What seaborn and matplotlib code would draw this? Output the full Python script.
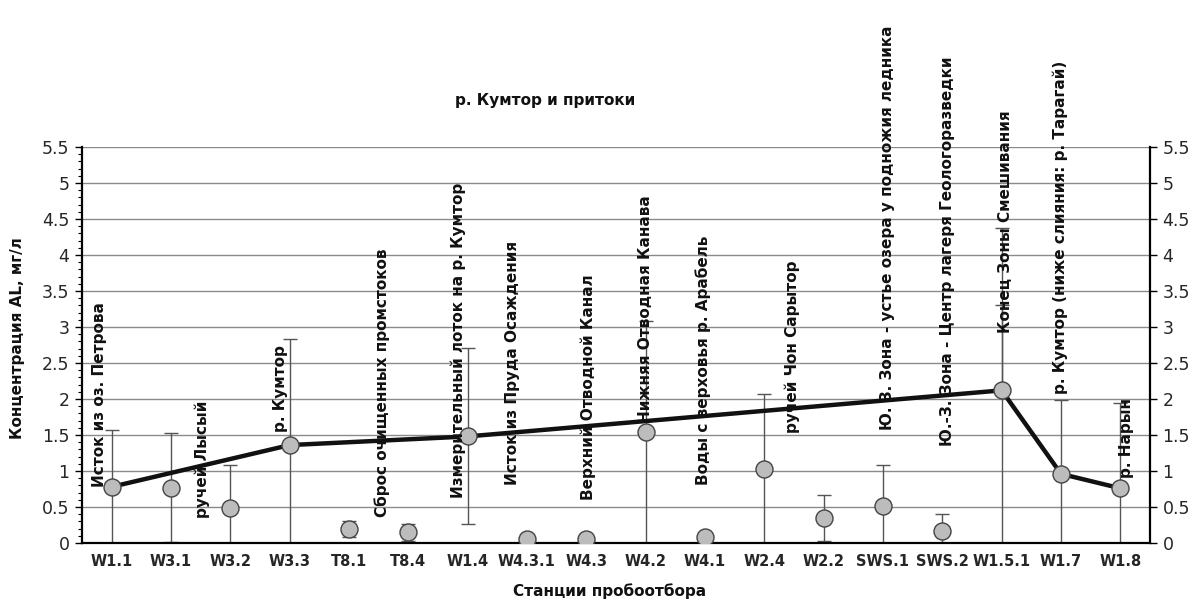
import numpy as np
import pandas as pd
import seaborn as sns
import matplotlib
matplotlib.use("Agg")
import matplotlib.pyplot as plt
from matplotlib.ticker import MultipleLocator

# станции и концентрации
stations = ["W1.1", "W3.1", "W3.2", "W3.3", "T8.1", "T8.4", "W1.4", "W4.3.1", "W4.3",
            "W4.2", "W4.1", "W2.4", "W2.2", "SWS.1", "SWS.2", "W1.5.1", "W1.7", "W1.8"]
al_mean = [0.78, 0.77, 0.49, 1.36, 0.20, 0.15, 1.49, 0.05, 0.05,
           1.54, 0.08, 1.03, 0.35, 0.51, 0.16, 2.12, 0.96, 0.76]
al_err = [0.79, 0.76, 0.60, 1.47, 0.11, 0.12, 1.22, np.nan, np.nan,
          1.54, np.nan, 1.04, 0.32, 0.57, 0.24, 2.26, 1.02, 1.19]

# основное русло р. Кумтор
river_stations = ["W1.1", "W3.3", "W1.4", "W1.5.1", "W1.7", "W1.8"]
river_mean = [0.78, 1.36, 1.48, 2.12, 0.96, 0.76]
river_err_up = [np.nan, np.nan, np.nan, 1.18, np.nan, np.nan]

names = ["Исток из оз. Петрова", "ручей Лысый", "р. Кумтор", "Сброс очищенных промстоков",
         "Измерительный лоток на р. Кумтор", "Исток из Пруда Осаждения", "Верхний Отводной Канал",
         "Нижняя Отводная Канава", "Воды с верховья р. Арабель", "ручей Чон Сарытор",
         "Ю. З. Зона - устье озера у подножия ледника", "Ю.-З. Зона - Центр лагеря Геологоразведки",
         "Конец Зоны Смешивания", "р. Кумтор (ниже слияния: р. Тарагай)", "р. Нарын"]
# положение подписей (x в категориях, низ подписи по y)
name_x = [-0.2, 1.52, 2.84, 4.56, 5.84, 6.76, 8.03, 8.99, 9.97, 11.47, 13.08, 14.08, 15.06, 15.98, 17.1]
name_y = [0.78, 0.35, 1.54, 0.36, 0.62, 0.80, 0.60, 1.66, 0.80, 1.53, 1.57, 1.35, 2.92, 2.07, 0.90]

sns.set_theme(style="white")
plt.rcParams["font.family"] = ["DejaVu Sans"]

df = pd.DataFrame({"pos": np.arange(len(stations)), "al": al_mean, "err": al_err})
pos_of = {s: i for i, s in enumerate(stations)}
df_river = pd.DataFrame({"pos": [pos_of[s] for s in river_stations], "al": river_mean})

fig = plt.figure(figsize=(11.95, 6.10), dpi=100)
ax = fig.add_axes([82 / 1195, 1 - 543 / 610, (1150 - 82) / 1195, (543 - 147) / 610])

ax.errorbar(df["pos"], df["al"], yerr=df["err"], fmt="none", ecolor="#555555",
            elinewidth=1, capsize=5, capthick=1, zorder=2)
ax.errorbar(df_river["pos"], df_river["al"],
            yerr=[np.zeros(len(river_err_up)), river_err_up], fmt="none",
            ecolor="#555555", elinewidth=1, capsize=5, capthick=1, zorder=2)
sns.lineplot(data=df_river, x="pos", y="al", color="#111111", linewidth=3.2, ax=ax, zorder=3)
sns.scatterplot(data=df, x="pos", y="al", s=150, color="#bcbcbc", edgecolor="#444444",
                linewidth=1, ax=ax, zorder=4)

for txt, xx, yy in zip(names, name_x, name_y):
    ax.text(xx, yy, txt, rotation=90, ha="center", va="bottom", fontsize=11,
            fontweight="bold", color="#111111", zorder=5, clip_on=False)

ax.set_xlim(-0.5, len(stations) - 0.5)
ax.set_ylim(0, 5.5)
ax.yaxis.set_major_locator(MultipleLocator(0.5))
ax.yaxis.set_minor_locator(MultipleLocator(0.1))
ax.set_yticks(np.arange(0, 5.51, 0.5))
ax.set_yticklabels([f"{v:g}" for v in np.arange(0, 5.51, 0.5)])
ax.grid(axis="y", color="#8a8a8a", linewidth=1)
ax.set_axisbelow(True)

ax.set_xticks(np.arange(-0.5, len(stations), 1.0))
ax.set_xticklabels([])
ax.set_xticks(np.arange(len(stations)), minor=True)
ax.set_xticklabels(stations, minor=True, fontsize=10.5, fontweight="bold",
                   family=["Liberation Sans Narrow", "DejaVu Sans"])
ax.tick_params(axis="x", which="major", direction="inout", length=9, width=1.2, color="black")
ax.tick_params(axis="x", which="minor", length=0, pad=8)
ax.tick_params(axis="y", which="major", direction="out", length=5, width=1, color="black",
               labelsize=12.5, left=True, right=False, pad=4)
ax.tick_params(axis="y", which="minor", direction="out", length=3, width=0.8, color="black", left=True)

for side in ["left", "bottom"]:
    ax.spines[side].set_color("black")
    ax.spines[side].set_linewidth(1.6)
ax.spines["top"].set_visible(False)
ax.spines["right"].set_visible(False)

ax2 = ax.twinx()
ax2.set_ylim(0, 5.5)
ax2.set_yticks(np.arange(0, 5.51, 0.5))
ax2.set_yticklabels([f"{v:g}" for v in np.arange(0, 5.51, 0.5)])
ax2.tick_params(axis="y", direction="out", length=5, width=1, color="black", labelsize=12.5,
                right=True, pad=4)
for side in ["left", "bottom", "top"]:
    ax2.spines[side].set_visible(False)
ax2.spines["right"].set_color("black")
ax2.spines["right"].set_linewidth(1.6)

ax.set_xlabel("")
ax.set_ylabel("")
fig.text(18 / 1195, 1 - 338 / 610, "Концентрация AL, мг/л", rotation=90, ha="center",
         va="center", fontsize=11, fontweight="bold", color="#111111")
fig.text(610 / 1195, 1 - 591 / 610, "Станции пробоотбора", ha="center", va="center",
         fontsize=11, fontweight="bold", color="#111111",
         family=["Liberation Sans Narrow", "DejaVu Sans"])
fig.text(545 / 1195, 1 - 101 / 610, "р. Кумтор и притоки", ha="center", va="center",
         fontsize=11, fontweight="bold", color="#111111")

fig.savefig("out.png", dpi=100)
